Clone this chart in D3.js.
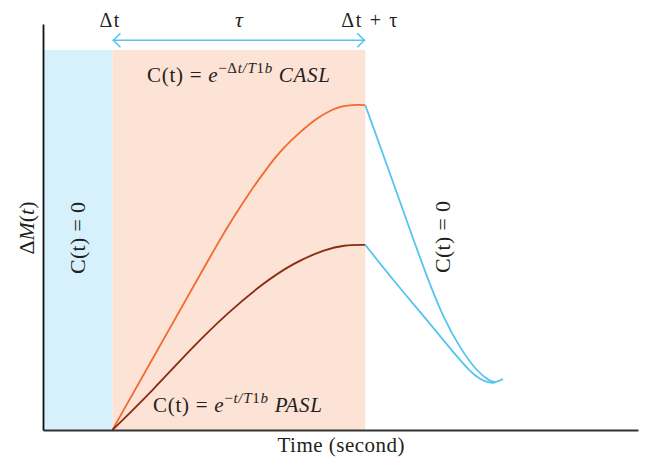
<!DOCTYPE html>
<html>
<head>
<meta charset="utf-8">
<script src="https://cdn.jsdelivr.net/npm/d3@7"></script>
<style>
  html, body { margin: 0; padding: 0; background: #fff; }
  svg { display: block; }
  text { font-family: "Liberation Serif", "DejaVu Serif", serif; fill: #231f20; }
</style>
</head>
<body>
<svg id="chart" width="653" height="471"></svg>
<script>
// ---- data (time in arbitrary seconds, signal in relative units) ----
const deltaT = 0.7;        // transit delay Δt
const tau = 2.55;          // bolus duration τ
const timeDomain = [0, 6];
const signalDomain = [0, 1.25];
const regionTop = 1.17;
const arrowLevel = 1.2;

const caslRise = [
  [0.70, 0.000], [1.18, 0.260], [1.65, 0.514], [1.765, 0.576], [1.916, 0.653],
  [2.087, 0.733], [2.259, 0.807], [2.420, 0.868], [2.592, 0.917], [2.763, 0.961],
  [2.924, 0.988], [3.025, 0.998], [3.166, 1.002], [3.25, 1.000]
];
const pcaslRise = [
  [0.70, 0.000], [1.11, 0.123], [1.51, 0.256], [1.86, 0.360], [2.19, 0.445],
  [2.52, 0.514], [2.86, 0.558], [3.03, 0.569], [3.25, 0.570]
];
const caslDecay = [
  [3.25, 1.000], [3.479, 0.807], [3.701, 0.616], [3.872, 0.471], [4.034, 0.348],
  [4.205, 0.252], [4.376, 0.180], [4.508, 0.150], [4.56, 0.146], [4.639, 0.157]
];
const paslDecay = [
  [3.25, 0.570], [3.529, 0.462], [3.872, 0.339], [4.134, 0.240], [4.306, 0.180],
  [4.407, 0.156], [4.508, 0.144], [4.56, 0.146]
];
const topLabels = ["Δt", "τ", "Δt + τ"];

// ---- drawing ----
const svg = d3.select("#chart");
const x = d3.scaleLinear().domain(timeDomain).range([43, 638]);
const y = d3.scaleLinear().domain(signalDomain).range([430, 24]);

// shaded regions
svg.append("rect")
  .attr("x", x(0)).attr("y", y(regionTop))
  .attr("width", x(deltaT) - x(0)).attr("height", y(0) - y(regionTop))
  .attr("fill", "#d6f1fc");
svg.append("rect")
  .attr("x", x(deltaT)).attr("y", y(regionTop))
  .attr("width", x(deltaT + tau) - x(deltaT)).attr("height", y(0) - y(regionTop))
  .attr("fill", "#fde2d6");

// curves
const line = d3.line().x(d => x(d[0])).y(d => y(d[1])).curve(d3.curveBasis);
svg.append("path").datum(caslRise).attr("d", line)
  .attr("fill", "none").attr("stroke", "#f26a2e").attr("stroke-width", 1.8);
svg.append("path").datum(pcaslRise).attr("d", line)
  .attr("fill", "none").attr("stroke", "#8a2b12").attr("stroke-width", 1.8);
svg.append("path").datum(caslDecay).attr("d", line)
  .attr("fill", "none").attr("stroke", "#55c5ef").attr("stroke-width", 1.8);
svg.append("path").datum(paslDecay).attr("d", line)
  .attr("fill", "none").attr("stroke", "#55c5ef").attr("stroke-width", 1.8);

// axes (no ticks)
svg.append("g").attr("transform", `translate(0,${y(0)})`)
  .call(d3.axisBottom(x).ticks(0).tickSizeOuter(0))
  .call(g => g.select(".domain").attr("stroke", "#333").attr("stroke-width", 2.2));
svg.append("g").attr("transform", `translate(${x(0)},0)`)
  .call(d3.axisLeft(y).ticks(0).tickSizeOuter(0))
  .call(g => g.select(".domain").attr("stroke", "#111").attr("stroke-width", 1.8));

// double arrow for τ
const ay = y(arrowLevel), ax0 = x(deltaT), ax1 = x(deltaT + tau);
const arrowColor = "#55c5ef";
svg.append("line").attr("x1", ax0).attr("x2", ax1).attr("y1", ay).attr("y2", ay)
  .attr("stroke", arrowColor).attr("stroke-width", 1.6);
svg.append("path")
  .attr("d", `M${ax0 + 8},${ay - 7} L${ax0 + 1},${ay} L${ax0 + 8},${ay + 7}`)
  .attr("fill", "none").attr("stroke", arrowColor).attr("stroke-width", 1.6);
svg.append("path")
  .attr("d", `M${ax1 - 8},${ay - 7} L${ax1 - 1},${ay} L${ax1 - 8},${ay + 7}`)
  .attr("fill", "none").attr("stroke", arrowColor).attr("stroke-width", 1.6);

// top labels
const topPos = [deltaT, deltaT + tau / 2, deltaT + tau];
const topLen = [20, 0, 56];
topLabels.forEach((t, i) => {
  const el = svg.append("text").attr("x", x(topPos[i]) + (i === 0 ? -3 : i === 2 ? 4 : 0)).attr("y", 27)
    .attr("text-anchor", "middle").attr("font-size", i === 1 ? 22 : 20)
    .style("font-style", i === 1 ? "italic" : "normal")
    .text(t);
  if (topLen[i]) el.attr("textLength", topLen[i]).attr("lengthAdjust", "spacing");
});

// formula texts
function formula(xp, yp, sup, tail, len) {
  const t = svg.append("text").attr("x", xp).attr("y", yp).attr("font-size", 21)
    .attr("textLength", len).attr("lengthAdjust", "spacing");
  t.append("tspan").text("C(t) = ");
  t.append("tspan").style("font-style", "italic").text("e");
  const s = t.append("tspan").attr("dy", -9).attr("font-size", 15);
  sup.forEach(p => s.append("tspan").style("font-style", p[1] ? "italic" : "normal").text(p[0]));
  t.append("tspan").attr("dy", 9).text(" ");
  t.append("tspan").style("font-style", "italic").text(tail);
}
formula(147, 82, [["−", 0], ["Δ", 0], ["t", 1], ["/", 1], ["T", 1], ["1", 0], ["b", 1]], "CASL", 183);
formula(153, 412, [["−", 0], ["t", 1], ["/", 1], ["T", 1], ["1", 0], ["b", 1]], "PASL", 169);

// rotated labels
function vtext(xp, yp, len, build) {
  const t = svg.append("text").attr("transform", `translate(${xp},${yp}) rotate(-90)`)
    .attr("text-anchor", "middle").attr("font-size", 22)
    .attr("textLength", len).attr("lengthAdjust", "spacing");
  build(t);
}
vtext(85, 238, 72, t => t.text("C(t) = 0"));
vtext(450, 237, 72, t => t.text("C(t) = 0"));
vtext(34, 228, 53, t => {
  t.append("tspan").text("Δ");
  t.append("tspan").style("font-style", "italic").text("M");
  t.append("tspan").text("(");
  t.append("tspan").style("font-style", "italic").text("t");
  t.append("tspan").text(")");
});

// x-axis title
svg.append("text").attr("x", 341).attr("y", 452).attr("text-anchor", "middle")
  .attr("font-size", 21).attr("textLength", 127).attr("lengthAdjust", "spacing")
  .text("Time (second)");
</script>
</body>
</html>
